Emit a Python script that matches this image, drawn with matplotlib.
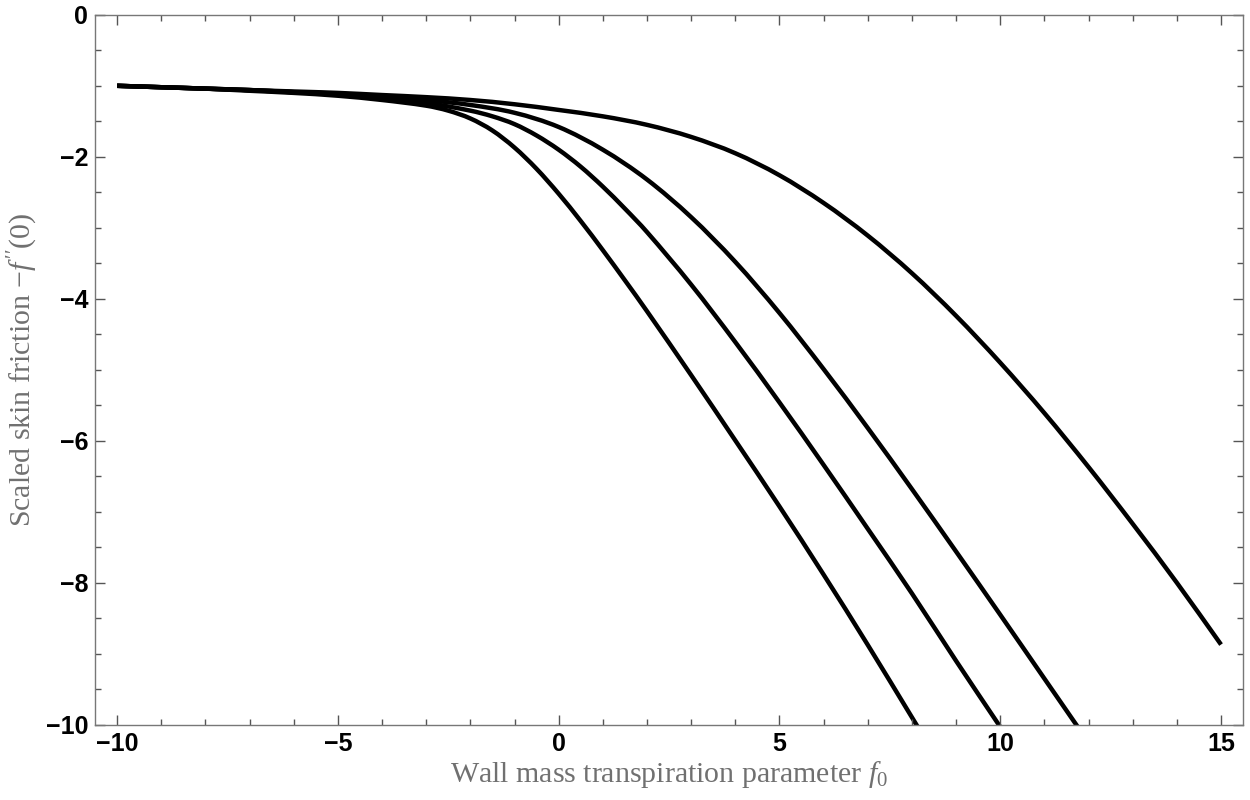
import numpy as np
import matplotlib
matplotlib.use("Agg")
import matplotlib.pyplot as plt
from matplotlib.ticker import MultipleLocator
from matplotlib.path import Path
from matplotlib.patches import PathPatch

# values
x1 = [-10, -9, -8, -7, -6, -5, -4, -3, -2.5, -2, -1.5, -1, -0.5, 0, 0.5, 1, 1.5, 2, 3, 4, 5, 6, 7, 8, 8.2]
y1 = [-1.00, -1.02, -1.04, -1.07, -1.10, -1.14, -1.20, -1.28, -1.35, -1.46, -1.63, -1.87, -2.17,
      -2.52, -2.905, -3.315, -3.74, -4.175, -5.075, -5.995, -6.925, -7.885, -8.875, -9.895, -10.10]

x2 = [-10, -9, -8, -7, -6, -5, -4, -3, -2, -1.5, -1, -0.5, 0, 0.5, 1, 1.5, 2, 3, 4, 5, 6, 7, 8, 9, 10]
y2 = [-1.00, -1.02, -1.04, -1.06, -1.09, -1.12, -1.17, -1.24, -1.35, -1.43, -1.54, -1.70, -1.90,
      -2.14, -2.42, -2.73, -3.06, -3.80, -4.61, -5.46, -6.34, -7.24, -8.15, -9.10, -10.03]

x3 = [-10, -9, -8, -7, -6, -5, -4, -3, -2, -1, 0, 1, 2, 3, 4, 5, 6, 7, 8, 9, 10, 11, 12]
y3 = [-1.00, -1.02, -1.04, -1.06, -1.09, -1.11, -1.15, -1.20, -1.27, -1.38, -1.58, -1.90, -2.32,
      -2.85, -3.48, -4.20, -4.99, -5.82, -6.68, -7.56, -8.45, -9.35, -10.25]

x4 = [-10, -9, -8, -7, -6, -5, -4, -3, -2, -1, 0, 1, 2, 3, 4, 5, 6, 7, 8, 9, 10, 11, 12, 13, 14, 15]
y4 = [-1.00, -1.02, -1.04, -1.06, -1.08, -1.10, -1.13, -1.16, -1.20, -1.26, -1.34, -1.43, -1.55,
      -1.72, -1.95, -2.26, -2.65, -3.11, -3.64, -4.24, -4.90, -5.61, -6.37, -7.17, -8.00, -8.87]

curves = [(x1, y1), (x2, y2), (x3, y3), (x4, y4)]


def smooth_path(xs, ys):
    # cubic hermite through the read points, as bezier segments
    xs = np.asarray(xs, float)
    ys = np.asarray(ys, float)
    m = np.empty(len(xs))
    m[1:-1] = (ys[2:] - ys[:-2]) / (xs[2:] - xs[:-2])
    m[0] = (ys[1] - ys[0]) / (xs[1] - xs[0])
    m[-1] = (ys[-1] - ys[-2]) / (xs[-1] - xs[-2])
    verts = [(xs[0], ys[0])]
    codes = [Path.MOVETO]
    for i in range(len(xs) - 1):
        h = xs[i + 1] - xs[i]
        verts += [(xs[i] + h / 3, ys[i] + m[i] * h / 3),
                  (xs[i + 1] - h / 3, ys[i + 1] - m[i + 1] * h / 3),
                  (xs[i + 1], ys[i + 1])]
        codes += [Path.CURVE4] * 3
    return Path(verts, codes)


plt.rcParams['mathtext.fontset'] = 'custom'
plt.rcParams['mathtext.rm'] = 'Liberation Serif'
plt.rcParams['mathtext.it'] = 'Liberation Serif:italic'

fig = plt.figure(figsize=(12.5, 8), dpi=100)
ax = fig.add_axes([0.076, 0.094, 0.9185, 0.8875])

for xs, ys in curves:
    ax.add_patch(PathPatch(smooth_path(xs, ys), facecolor='none', edgecolor='black',
                           lw=3.2, capstyle='butt'))

ax.set_xlim(-10.5, 15.5)
ax.set_ylim(-10, 0)
ax.xaxis.set_major_locator(MultipleLocator(5))
ax.xaxis.set_minor_locator(MultipleLocator(1))
ax.yaxis.set_major_locator(MultipleLocator(2))
ax.yaxis.set_minor_locator(MultipleLocator(0.5))

ax.tick_params(which='both', direction='in', top=True, right=True, color='#555555', width=1)
ax.tick_params(which='major', length=7)
ax.tick_params(which='minor', length=4)
ax.tick_params(axis='x', pad=5)
ax.tick_params(axis='y', pad=5)
for lab in ax.get_xticklabels() + ax.get_yticklabels():
    lab.set_fontfamily('Liberation Sans')
    lab.set_fontweight('bold')
    lab.set_fontsize(18)

for s in ax.spines.values():
    s.set_color('#777777')
    s.set_linewidth(1.0)

gray = '#707070'
ax.set_xlabel(r"Wall mass transpiration parameter $f_{0}$", fontsize=21.5,
              family='Liberation Serif', color=gray, labelpad=2)
ax.set_ylabel(r"Scaled skin friction $-f\,''(0)$", fontsize=21.5,
              family='Liberation Serif', color=gray, labelpad=4)

fig.savefig('out.png', dpi=100)
